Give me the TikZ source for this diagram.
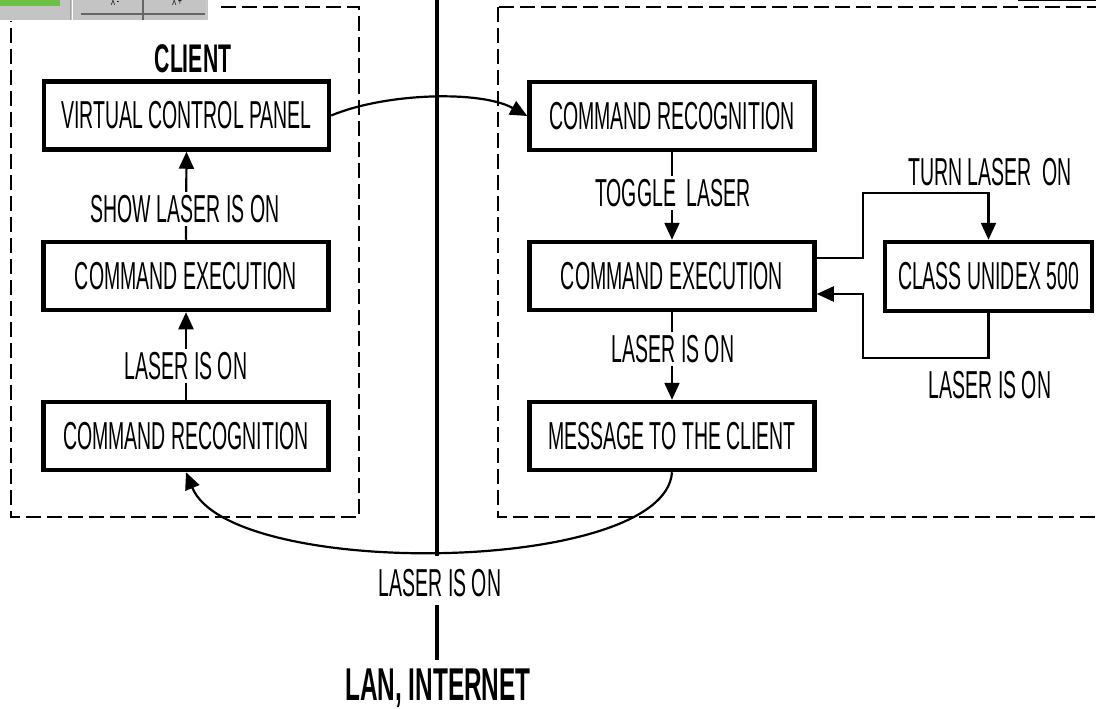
\documentclass[tikz,border=0pt]{standalone}
\usepackage{fontspec}
\setmainfont{Liberation Sans}[FakeStretch=0.5]
\newfontfamily\titlefont{Liberation Sans}[FakeStretch=0.53]
\usetikzlibrary{arrows.meta}
\definecolor{guigreen}{RGB}{108,192,72}
\definecolor{guigray}{RGB}{196,196,196}
\begin{document}
\begin{tikzpicture}[x=1pt,y=-1pt,
  box/.style={draw, line width=4.5pt, minimum width=285pt, minimum height=68pt, inner sep=0pt, font=\fontsize{39}{42}\selectfont},
  lbl/.style={fill=white, inner sep=3pt, font=\fontsize{39}{42}\selectfont},
  plainlbl/.style={inner sep=0pt, font=\fontsize{39}{42}\selectfont},
  conn/.style={line width=2.2pt},
  arr/.style={conn, -{Triangle[length=17pt,width=15pt]}},
  region/.style={dash pattern=on 15pt off 6pt, line width=2.7pt},
  title/.style={inner sep=0pt, font=\titlefont\bfseries\fontsize{40}{44}\selectfont},
]
\useasboundingbox (0,0) rectangle (1096,709);

% dashed regions
\begin{scope}
  \clip (0,0) rectangle (1096,709);
  \draw[region] (11,7) rectangle (359,517);
  \draw[region] (498,7) rectangle (1130,517);
  \draw[line width=2pt] (1018,0.5) -- (1100,0.5);
\end{scope}

% cropped GUI fragment top-left
\begin{scope}
  \clip (0,0) rectangle (216,21);
  \fill[white] (0,0) rectangle (216,21);
  \fill[guigray] (0,0) rectangle (208,20);
  \fill[guigreen] (0,0) rectangle (60,6);
  \draw[gray!75, line width=1pt] (70,0) -- (70,20);
  \draw[white, line width=1pt] (72.5,0) -- (72.5,20);
  \draw[gray!80!black, line width=1.5pt] (81,14) -- (205,14);
  \draw[gray!80!black, line width=1.2pt] (143,0) -- (143,20);
  \draw[gray!40, line width=1pt] (206,0) -- (206,20);
  \node[anchor=base, inner sep=0pt, font=\fontsize{13}{14}\selectfont] (xm) at (115,6) {X -};
  \node[anchor=base, inner sep=0pt, font=\fontsize{13}{14}\selectfont] (xp) at (177,6) {X +};
\end{scope}

% central network line
\coordinate (ltop) at (437,0);
\coordinate (lm1) at (437,556);
\coordinate (lm2) at (437,605);
\coordinate (lbot) at (437,660);
\draw[line width=4pt] (ltop) -- (lm1);
\draw[line width=4pt] (lm2) -- (lbot);
\node[plainlbl] (netlbl) at (440,583) {LASER IS ON};
\node[title, font=\titlefont\bfseries\fontsize{46}{50}\selectfont] (lan) at (438,688) {LAN, INTERNET};

% client side
\node[title] (client) at (193,59) {CLIENT};
\node[box] (vcp) at (186.5,115.5) {VIRTUAL CONTROL PANEL};
\node[box] (lce) at (186,276) {COMMAND EXECUTION};
\node[box] (lcr) at (186,436) {COMMAND RECOGNITION};

% server side
\node[box] (rcr) at (672,116) {COMMAND RECOGNITION};
\node[box] (rce) at (672,276) {COMMAND EXECUTION};
\node[box] (mtc) at (672,436) {MESSAGE TO THE CLIENT};
\node[box, minimum width=207pt, minimum height=69pt] (uni) at (988.5,276.5) {CLASS UNIDEX 500};

% vertical arrows with labels
\draw[arr] (lce.north) -- (vcp.south);
\node[lbl] (l1) at (185,209) {SHOW LASER IS ON};
\draw[arr] (lcr.north) -- (lce.south);
\node[lbl] (l2) at (186,366) {LASER IS ON};
\draw[arr] (rcr.south) -- (rce.north);
\node[lbl] (l3) at (673,193) {TOGGLE\ \ LASER};
\draw[arr] (rce.south) -- (mtc.north);
\node[lbl] (l4) at (673,349) {LASER IS ON};

% to/from the laser controller
\coordinate (b1) at (863,258);
\coordinate (b2) at (863,193);
\coordinate (b4) at (863,358);
\coordinate (b5) at (863,294);
\draw[arr] (rce.east |- b1) -| (b2) -| (uni.north);
\draw[arr] (uni.south) |- (b4) |- (rce.east |- b5);
\node[plainlbl] (l5) at (990,172) {TURN LASER\ \ ON};
\node[plainlbl] (l6) at (990,385) {LASER IS ON};

% across the network
\draw[arr] (vcp.east) .. controls (385,93) and (480,90) .. (rcr.west);
\draw[arr] (mtc.south) .. controls (665,575) and (230,580) .. (lcr.south);
\end{tikzpicture}
\end{document}
